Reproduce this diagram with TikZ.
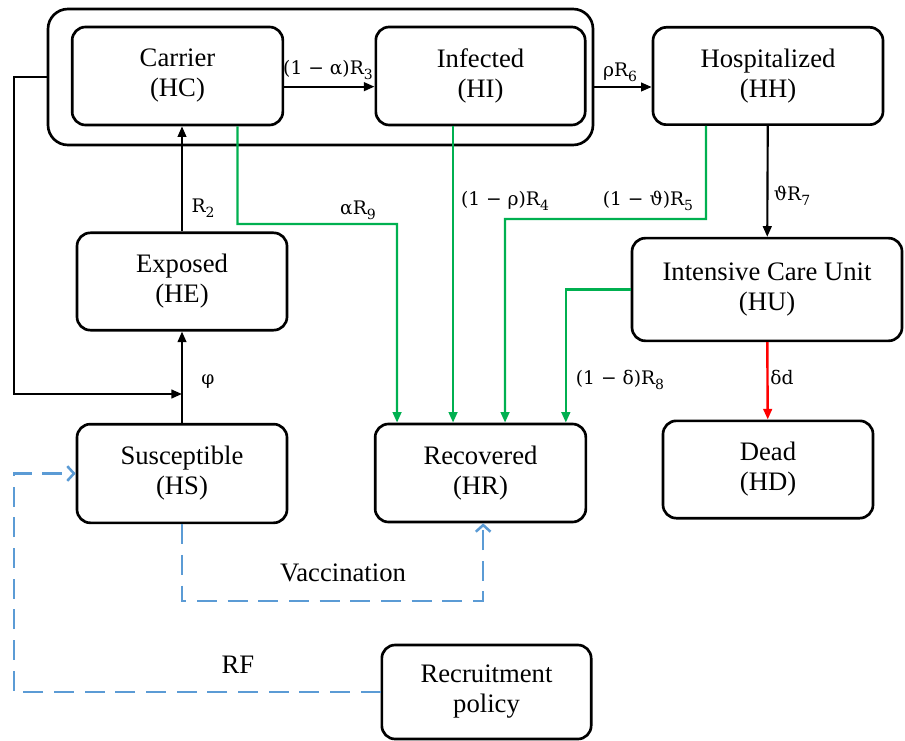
\documentclass[tikz,border=0pt]{standalone}
\usepackage{fontspec}
\setmainfont{Liberation Serif}
\newfontfamily\lblfont{DejaVu Serif}
\usetikzlibrary{arrows.meta}
\definecolor{flowgreen}{RGB}{0,176,80}
\definecolor{policyblue}{RGB}{91,155,213}
\newcommand\lowsub[1]{\raisebox{-0.5ex}{\fontsize{10.5}{10.5}\selectfont #1}}
\tikzset{
  box/.style={draw,line width=2pt,rounded corners=10pt,align=center,inner sep=0pt,font=\fontsize{20}{22.5}\selectfont},
  lbl/.style={inner sep=0pt,font=\lblfont\fontsize{14}{16}\selectfont},
  txt/.style={inner sep=0pt,font=\fontsize{20}{22.5}\selectfont},
  arr/.style={line width=1.6pt,-{Triangle[length=8pt,width=6.5pt]}},
  garr/.style={arr,flowgreen,line width=1.8pt},
  rarr/.style={arr,red,line width=1.8pt},
  barr/.style={line width=1.9pt,policyblue,dash pattern=on 15pt off 8pt,-{Straight Barb[length=5pt,width=11pt,line width=1.9pt]}}
}

\begin{document}
\begin{tikzpicture}[x=0.75pt,y=-0.75pt]
\useasboundingbox (0,0) rectangle (905,741);
      \node[box,minimum width=408.75pt,minimum height=102pt,rounded corners=15pt] (grp) at (320.5,77) {};
      \node[box,minimum width=158pt,minimum height=73.5pt] (HC) at (177.5,76) {Carrier\\(HC)};
      \node[box,minimum width=157pt,minimum height=73.5pt] (HI) at (480.5,76) {Infected\\(HI)};
      \node[box,minimum width=172.5pt,minimum height=73pt] (HH) at (768,76) {Hospitalized\\(HH)};
      \node[box,minimum width=157.5pt,minimum height=73pt] (HE) at (182,281.5) {Exposed\\(HE)};
      \node[box,minimum width=202.5pt,minimum height=77pt] (HU) at (767,289.5) {Intensive Care Unit\\(HU)};
      \node[box,minimum width=157.5pt,minimum height=74pt] (HS) at (182,473.5) {Susceptible\\(HS)};
      \node[box,minimum width=158pt,minimum height=73.5pt] (HR) at (480.5,473) {Recovered\\(HR)};
      \node[box,minimum width=157.5pt,minimum height=73pt] (HD) at (768,469.5) {Dead\\(HD)};
      \node[box,minimum width=157pt,minimum height=70.5pt] (RP) at (486.5,692) {Recruitment\\policy};
      \coordinate (fb) at (182,394);

      \node[lbl] (lR3) at (328,70) {(1 − α)R\lowsub{3}};
      \node[lbl] (lR6) at (620,72) {ρR\lowsub{6}};
      \node[lbl] (lR2) at (203,208) {R\lowsub{2}};
      \node[lbl] (lR9) at (358,210) {αR\lowsub{9}};
      \node[lbl] (lR4) at (505,201) {(1 − ρ)R\lowsub{4}};
      \node[lbl] (lR5) at (648,201) {(1 − ϑ)R\lowsub{5}};
      \node[lbl] (lR7) at (792,196) {ϑR\lowsub{7}};
      \node[lbl] (lR8) at (620,380) {(1 − δ)R\lowsub{8}};
      \node[lbl] (ld) at (782,377) {δd};
      \node[lbl] (lphi) at (208,382) {φ};
      \node[txt] (lvac) at (343,573) {Vaccination};
      \node[txt] (lrf) at (238,665) {RF};

\foreach \a/\b in {HS/HE,HH/HU}
  \draw[arr] (\a) -- (\b);
\draw[arr] (HE.north) -- (HE.north |- HC.south);
\draw[arr] ([yshift=-8pt]HC.east) -- ([yshift=-8pt]HI.west);
\draw[arr] ([yshift=-7.5pt]grp.east) -- ([yshift=-7.5pt]grp.east -| HH.west);
\draw[arr] (grp.west) -- (14,77) |- (fb);
\draw[garr] ([xshift=45pt]HC.south) |- (397,224) -- ([xshift=-62.6pt]HR.north);
\draw[garr] ([xshift=-20.6pt]HI.south) -- ([xshift=-20.6pt]HR.north);
\draw[garr] ([xshift=-46.5pt]HH.south) |- (505,219) -- ([xshift=18.4pt]HR.north);
\draw[garr] (HU.west) -| ([xshift=64pt]HR.north);
\draw[rarr] (HU) -- (HD);
\draw[barr] (HS.south) -- ++(0,77) -| ([xshift=2pt]HR.south);
\draw[barr] (RP.west) -- (14,692) |- (HS.west);
    \end{tikzpicture}
\end{document}
